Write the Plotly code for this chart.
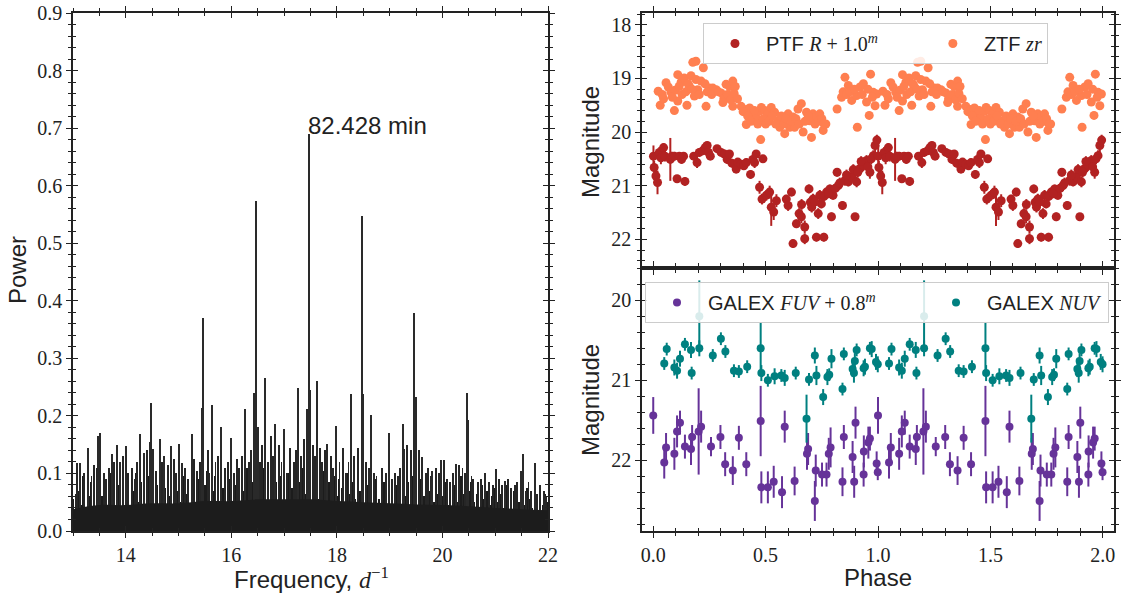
import plotly.graph_objects as go

# ---------------- Periodogram (left panel) ----------------
peak_freq = [13.13, 13.29, 13.48, 13.51, 13.73, 13.84, 13.89, 14.00, 14.27, 14.34,
             14.45, 14.48, 14.52, 14.64, 14.73, 14.85, 15.01, 15.07, 15.26, 15.45,
             15.47, 15.64, 15.80, 15.99, 16.26, 16.43, 16.47, 16.50, 16.63, 16.83,
             16.99, 17.26, 17.44, 17.47, 17.50, 17.63, 17.82, 17.98, 18.27, 18.48,
             18.50, 18.64, 18.99, 19.26, 19.28, 19.46, 19.49, 19.62, 19.81, 19.97,
             20.26, 20.47, 20.49, 20.81, 21.01, 21.18, 21.49, 21.52, 21.75]
peak_power = [0.119, 0.145, 0.165, 0.170, 0.133, 0.150, 0.120, 0.148, 0.168, 0.136,
              0.154, 0.223, 0.142, 0.160, 0.130, 0.148, 0.151, 0.119, 0.168, 0.213,
              0.370, 0.219, 0.180, 0.162, 0.212, 0.239, 0.573, 0.180, 0.265, 0.186,
              0.178, 0.248, 0.212, 0.690, 0.245, 0.260, 0.151, 0.182, 0.238, 0.548,
              0.238, 0.202, 0.171, 0.186, 0.142, 0.378, 0.232, 0.129, 0.104, 0.123,
              0.117, 0.239, 0.193, 0.100, 0.107, 0.087, 0.104, 0.133, 0.119]

minor_peak_freq = [13.05, 13.08, 13.20, 13.35, 13.40, 13.45, 13.58, 13.62, 13.68, 13.78,
                   13.95, 14.05, 14.12, 14.18, 14.22, 14.40, 14.58, 14.68, 14.80, 14.92,
                   14.96, 15.12, 15.18, 15.30, 15.35, 15.40, 15.55, 15.58, 15.70, 15.75,
                   15.88, 15.93, 16.05, 16.10, 16.15, 16.20, 16.33, 16.38, 16.55, 16.58,
                   16.70, 16.75, 16.79, 16.90, 16.95, 17.05, 17.12, 17.18, 17.22, 17.32,
                   17.38, 17.55, 17.58, 17.68, 17.72, 17.77, 17.88, 17.93, 18.05, 18.12,
                   18.17, 18.22, 18.33, 18.40, 18.56, 18.60, 18.70, 18.75, 18.85, 18.93,
                   19.05, 19.10, 19.15, 19.20, 19.33, 19.40, 19.56, 19.68, 19.72, 19.78,
                   19.88, 19.93, 20.03, 20.08, 20.15, 20.20, 20.32, 20.38, 20.42, 20.55,
                   20.58, 20.68, 20.73, 20.88, 20.95, 21.08, 21.12, 21.25, 21.30, 21.38,
                   21.42, 21.58, 21.63, 21.68, 21.80, 21.85, 21.92, 21.96]
minor_peak_power = [0.065, 0.118, 0.100, 0.095, 0.115, 0.110, 0.100, 0.090, 0.110, 0.120,
                    0.130, 0.100, 0.110, 0.090, 0.120, 0.140, 0.105, 0.120, 0.115, 0.125,
                    0.100, 0.110, 0.090, 0.125, 0.105, 0.120, 0.140, 0.100, 0.120, 0.130,
                    0.110, 0.120, 0.100, 0.125, 0.110, 0.130, 0.120, 0.140, 0.120, 0.150,
                    0.120, 0.165, 0.130, 0.150, 0.120, 0.100, 0.145, 0.120, 0.140, 0.130,
                    0.160, 0.150, 0.130, 0.145, 0.120, 0.140, 0.130, 0.110, 0.120, 0.145,
                    0.100, 0.120, 0.130, 0.145, 0.120, 0.110, 0.100, 0.095, 0.110, 0.100,
                    0.090, 0.100, 0.095, 0.110, 0.150, 0.140, 0.140, 0.100, 0.110, 0.095,
                    0.110, 0.100, 0.123, 0.090, 0.085, 0.100, 0.115, 0.110, 0.100, 0.095,
                    0.090, 0.085, 0.090, 0.085, 0.080, 0.090, 0.080, 0.090, 0.075, 0.080,
                    0.085, 0.070, 0.085, 0.070, 0.065, 0.080, 0.070, 0.060]

noise_start = 13.0
noise_step = 0.05
noise_power = [
    0.055, 0.030, 0.070, 0.045, 0.095, 0.040, 0.060, 0.085, 0.050, 0.075,
    0.035, 0.060, 0.070, 0.045, 0.100, 0.065, 0.040, 0.080, 0.055, 0.105,
    0.060, 0.090, 0.045, 0.070, 0.100, 0.050, 0.085, 0.065, 0.040, 0.095,
    0.070, 0.045, 0.080, 0.100, 0.055, 0.075, 0.105, 0.060, 0.045, 0.085,
    0.070, 0.050, 0.095, 0.065, 0.045, 0.110, 0.075, 0.055, 0.090, 0.060,
    0.080, 0.105, 0.050, 0.070, 0.095, 0.060, 0.110, 0.075, 0.045, 0.090,
    0.065, 0.100, 0.080, 0.055, 0.095, 0.070, 0.110, 0.060, 0.085, 0.100,
    0.075, 0.055, 0.110, 0.090, 0.060, 0.105, 0.070, 0.085, 0.050, 0.095,
    0.080, 0.060, 0.100, 0.075, 0.090, 0.050, 0.085, 0.110, 0.065, 0.095,
    0.100, 0.070, 0.090, 0.055, 0.080, 0.105, 0.060, 0.085, 0.070, 0.095,
    0.060, 0.090, 0.075, 0.050, 0.100, 0.065, 0.085, 0.055, 0.080, 0.070,
    0.095, 0.060, 0.080, 0.050, 0.075, 0.090, 0.055, 0.070, 0.085, 0.045,
    0.100, 0.065, 0.055, 0.080, 0.045, 0.070, 0.060, 0.085, 0.050, 0.095,
    0.075, 0.055, 0.090, 0.060, 0.045, 0.070, 0.085, 0.050, 0.065, 0.080,
    0.060, 0.085, 0.045, 0.070, 0.055, 0.080, 0.050, 0.095, 0.065, 0.045,
    0.070, 0.085, 0.050, 0.065, 0.040, 0.080, 0.055, 0.070, 0.045, 0.060,
    0.075, 0.050, 0.065, 0.040, 0.080, 0.055, 0.045, 0.070, 0.060, 0.050,
    0.065, 0.045, 0.075, 0.055, 0.040, 0.070, 0.050, 0.060, 0.045, 0.065,
    0.050]

floor_freq = [13.0, 13.5, 14.0, 14.5, 15.0, 15.5, 16.0, 16.5, 17.0, 17.5,
              18.0, 18.5, 19.0, 19.5, 20.0, 20.5, 21.0, 21.5, 22.0]
floor_power = [0.038, 0.045, 0.045, 0.048, 0.048, 0.052, 0.052, 0.055, 0.055, 0.055,
               0.052, 0.050, 0.048, 0.046, 0.045, 0.043, 0.040, 0.038, 0.036]

peak_label = "82.428 min"
peak_label_freq = 17.47
peak_label_power = 0.704

# ---------------- Optical light curves (phase 0-1, PTF shown with +1.0 mag) ----------------
ptf_phase = [0.001, 0.004, 0.012, 0.019, 0.027, 0.034, 0.046, 0.052, 0.076, 0.083,
             0.094, 0.106, 0.116, 0.126, 0.135, 0.141, 0.180, 0.195, 0.205, 0.220,
             0.231, 0.240, 0.246, 0.254, 0.284, 0.302, 0.317, 0.329, 0.339, 0.350,
             0.369, 0.376, 0.391, 0.403, 0.414, 0.433, 0.443, 0.451, 0.458, 0.473,
             0.484, 0.488, 0.503, 0.518, 0.525, 0.536, 0.548, 0.592, 0.600, 0.615,
             0.622, 0.637, 0.649, 0.659, 0.674, 0.674, 0.693, 0.699, 0.711, 0.726,
             0.734, 0.741, 0.748, 0.759, 0.771, 0.786, 0.793, 0.800, 0.818, 0.823,
             0.842, 0.853, 0.868, 0.883, 0.898, 0.905, 0.920, 0.935, 0.949, 0.964,
             0.979, 0.987, 0.995, 0.660, 0.705, 0.720, 0.760, 0.780, 0.810, 0.830,
             0.860, 0.890, 0.910, 0.925, 0.955, 0.970]
ptf_mag = [20.45, 20.66, 20.82, 20.94, 20.38, 20.48, 20.29, 20.45, 20.51, 20.45,
           20.45, 20.87, 20.45, 20.51, 20.45, 20.92, 20.45, 20.57, 20.38, 20.35,
           20.29, 20.25, 20.38, 20.45, 20.31, 20.38, 20.41, 20.51, 20.41, 20.58,
           20.69, 20.56, 20.60, 20.63, 20.57, 20.79, 20.51, 20.57, 20.41, 21.03,
           21.25, 20.50, 21.18, 21.12, 21.40, 21.49, 21.28, 21.25, 21.37, 21.12,
           22.08, 21.71, 21.52, 21.58, 21.77, 21.99, 21.06, 21.31, 21.25, 21.96,
           21.52, 21.18, 21.34, 21.96, 21.12, 21.06, 21.58, 21.18, 20.75, 21.00,
           21.37, 20.90, 20.93, 20.84, 21.58, 20.93, 20.68, 20.62, 20.53, 20.75,
           20.44, 20.25, 20.15, 21.35, 21.40, 21.30, 21.20, 21.15, 21.05, 20.95,
           20.80, 20.70, 20.75, 20.55, 20.65, 20.50]
ptf_err = [0.20, 0.12, 0.15, 0.22, 0.10, 0.12, 0.08, 0.10, 0.40, 0.08,
           0.08, 0.07, 0.07, 0.08, 0.07, 0.08, 0.07, 0.10, 0.08, 0.07,
           0.08, 0.07, 0.10, 0.07, 0.06, 0.07, 0.07, 0.08, 0.07, 0.08,
           0.08, 0.07, 0.08, 0.07, 0.08, 0.08, 0.10, 0.10, 0.07, 0.12,
           0.10, 0.05, 0.10, 0.12, 0.35, 0.15, 0.12, 0.08, 0.10, 0.08,
           0.08, 0.08, 0.10, 0.12, 0.12, 0.10, 0.08, 0.10, 0.10, 0.08,
           0.10, 0.10, 0.08, 0.08, 0.08, 0.08, 0.08, 0.08, 0.08, 0.10,
           0.08, 0.10, 0.08, 0.10, 0.07, 0.10, 0.12, 0.10, 0.10, 0.12,
           0.10, 0.15, 0.10, 0.10, 0.10, 0.10, 0.08, 0.08, 0.08, 0.10,
           0.10, 0.10, 0.10, 0.10, 0.10, 0.10]

ztf_phase = [0.022, 0.031, 0.046, 0.057, 0.067, 0.079, 0.094, 0.097, 0.109, 0.109,
             0.124, 0.128, 0.138, 0.150, 0.161, 0.168, 0.176, 0.183, 0.190, 0.190,
             0.198, 0.213, 0.223, 0.235, 0.250, 0.265, 0.280, 0.302, 0.314, 0.324,
             0.339, 0.354, 0.354, 0.365, 0.391, 0.414, 0.414, 0.429, 0.443, 0.458,
             0.473, 0.478, 0.481, 0.496, 0.510, 0.525, 0.540, 0.555, 0.563, 0.585,
             0.600, 0.607, 0.622, 0.629, 0.644, 0.659, 0.667, 0.682, 0.696, 0.704,
             0.711, 0.726, 0.741, 0.756, 0.768, 0.818, 0.838, 0.853, 0.868, 0.883,
             0.905, 0.908, 0.920, 0.935, 0.949, 0.961, 0.967, 0.979, 0.987, 0.994,
             0.040, 0.085, 0.115, 0.145, 0.155, 0.172, 0.205, 0.230, 0.240, 0.260,
             0.290, 0.310, 0.330, 0.345, 0.360, 0.375, 0.400, 0.420, 0.435, 0.450,
             0.465, 0.490, 0.500, 0.515, 0.530, 0.545, 0.570, 0.580, 0.590, 0.615,
             0.635, 0.650, 0.675, 0.690, 0.720, 0.735, 0.750, 0.760, 0.845, 0.860,
             0.875, 0.895, 0.930, 0.955, 0.975]
ztf_mag = [19.24, 19.50, 19.38, 19.08, 19.16, 19.26, 19.60, 19.22, 18.93, 19.42,
           19.07, 19.30, 18.99, 19.50, 19.15, 18.95, 18.70, 19.33, 18.68, 19.02,
           19.21, 19.05, 18.80, 19.52, 19.18, 19.18, 19.21, 19.27, 19.38, 19.11,
           19.15, 19.05, 19.52, 19.15, 19.52, 19.58, 19.86, 19.55, 19.67, 19.73,
           19.61, 20.14, 19.54, 19.60, 19.66, 19.54, 19.63, 19.79, 19.91, 20.03,
           19.66, 19.91, 19.72, 19.91, 19.57, 19.47, 20.00, 19.63, 19.79, 20.10,
           19.66, 19.72, 19.66, 19.97, 19.85, 19.57, 19.35, 18.98, 19.13, 19.41,
           19.32, 19.91, 19.16, 19.10, 19.44, 19.69, 18.92, 19.26, 19.51, 19.29,
           19.30, 19.35, 19.15, 19.25, 19.10, 19.20, 19.30, 19.10, 19.25, 19.30,
           19.25, 19.45, 19.30, 19.40, 19.28, 19.38, 19.62, 19.70, 19.80, 19.60,
           19.85, 19.75, 19.85, 19.80, 19.70, 19.85, 19.70, 19.85, 19.75, 19.80,
           19.75, 19.85, 19.80, 19.70, 19.85, 19.80, 19.75, 19.85, 19.25, 19.30,
           19.25, 19.20, 19.30, 19.20, 19.35]
ztf_err = [0.06] * 40 + [0.07] * 45 + [0.06] * 40

# ---------------- GALEX light curves (FUV shown with +0.8 mag) ----------------
fuv_phase = [0.000, 0.049, 0.057, 0.094, 0.106, 0.119, 0.141, 0.168, 0.173, 0.202,
             0.213, 0.257, 0.299, 0.320, 0.354, 0.381, 0.414, 0.478, 0.481, 0.510,
             0.536, 0.573, 0.585, 0.629, 0.684, 0.689, 0.719, 0.723, 0.751, 0.771,
             0.781, 0.789, 0.842, 0.848, 0.887, 0.894, 0.900, 0.936, 0.937, 0.957,
             0.964, 0.994, 0.999]
fuv_mag = [21.44, 22.03, 21.84, 21.92, 21.64, 21.53, 21.83, 21.86, 21.71, 21.64,
           21.58, 21.83, 21.71, 22.05, 22.13, 21.72, 22.05, 21.51, 22.34, 22.34,
           22.27, 22.40, 21.58, 22.26, 21.92, 21.86, 22.51, 22.13, 22.18, 22.18,
           21.92, 21.84, 22.27, 21.71, 21.96, 22.27, 21.53, 22.18, 21.89, 21.78,
           21.73, 22.04, 22.15]
fuv_err = [0.23, 0.20, 0.18, 0.20, 0.20, 0.15, 0.15, 0.20, 0.15, 0.54,
           0.20, 0.12, 0.15, 0.15, 0.18, 0.15, 0.15, 0.44, 0.20, 0.20,
           0.20, 0.20, 0.20, 0.18, 0.20, 0.20, 0.25, 0.20, 0.15, 0.15,
           0.20, 0.25, 0.18, 0.15, 0.20, 0.20, 0.20, 0.15, 0.20, 0.20,
           0.15, 0.15, 0.10]

nuv_phase = [0.049, 0.060, 0.094, 0.106, 0.119, 0.141, 0.168, 0.171, 0.205, 0.205,
             0.265, 0.301, 0.321, 0.359, 0.381, 0.418, 0.478, 0.481, 0.510, 0.540,
             0.570, 0.585, 0.634, 0.682, 0.693, 0.719, 0.726, 0.756, 0.775, 0.783,
             0.793, 0.842, 0.848, 0.887, 0.893, 0.897, 0.905, 0.936, 0.942, 0.964,
             0.972, 0.991, 0.999]
nuv_mag = [20.79, 20.61, 20.84, 20.88, 20.73, 20.55, 20.62, 20.91, 20.20, 20.60,
           20.69, 20.48, 20.64, 20.88, 20.89, 20.83, 20.60, 20.91, 21.00, 20.95,
           20.94, 20.97, 20.91, 21.48, 20.99, 20.69, 20.94, 21.21, 20.96, 20.93,
           20.73, 21.11, 20.67, 20.86, 20.91, 20.76, 20.62, 20.85, 20.83, 20.60,
           20.61, 20.77, 20.80]
nuv_err = [0.08, 0.08, 0.10, 0.10, 0.10, 0.08, 0.10, 0.08, 0.45, 0.10,
           0.08, 0.08, 0.08, 0.08, 0.08, 0.08, 0.33, 0.10, 0.08, 0.10,
           0.08, 0.10, 0.08, 0.30, 0.08, 0.10, 0.12, 0.10, 0.10, 0.08,
           0.12, 0.08, 0.08, 0.10, 0.12, 0.10, 0.08, 0.10, 0.10, 0.08,
           0.10, 0.10, 0.10]

PTF_C = "#b22222"
ZTF_C = "#ff7f50"
FUV_C = "#663399"
NUV_C = "#008080"
INK = "#222222"
NB = "\u00a0"


def two_cycles(values, shift):
    """Phase-folded data is shown twice (phase 0-1 and 1-2)."""
    return list(values) + [v + shift for v in values]


fig = go.Figure()

# periodogram
noise_freq = [round(noise_start + noise_step * i, 3) for i in range(len(noise_power))]
fig.add_trace(go.Bar(x=noise_freq, y=noise_power, width=0.026,
                     marker=dict(color="#1c1c1c", line=dict(width=0)),
                     showlegend=False, hoverinfo="skip", xaxis="x", yaxis="y"))
fig.add_trace(go.Bar(x=minor_peak_freq, y=minor_peak_power, width=0.018,
                     marker=dict(color="#262626", line=dict(width=0)),
                     showlegend=False, hoverinfo="skip", xaxis="x", yaxis="y"))
fig.add_trace(go.Bar(x=peak_freq, y=peak_power, width=0.02,
                     marker=dict(color="#2a2a2a", line=dict(width=0)),
                     showlegend=False, xaxis="x", yaxis="y"))
fig.add_trace(go.Scatter(x=floor_freq, y=floor_power, mode="lines", fill="tozeroy",
                         line=dict(width=0, color="#1c1c1c", shape="spline"),
                         fillcolor="#1c1c1c", showlegend=False, hoverinfo="skip",
                         xaxis="x", yaxis="y"))


def lc_trace(phase, mag, err, color, name, xa, ya, leg, size):
    return go.Scatter(
        x=two_cycles(phase, 1.0), y=two_cycles(mag, 0.0),
        error_y=dict(type="data", array=list(err) * 2, thickness=2, width=0, color=color),
        mode="markers", marker=dict(size=size, color=color, line=dict(width=0)),
        name=name, xaxis=xa, yaxis=ya, legend=leg)


MATH = '<span style="font-family:Liberation Serif">'
fig.add_trace(lc_trace(ptf_phase, ptf_mag, ptf_err, PTF_C,
                       'PTF ' + MATH + '<i>R</i> + 1.0<sup><i>m</i></sup></span>' + NB * 7,
                       "x2", "y2", "legend", 9))
fig.add_trace(lc_trace(ztf_phase, ztf_mag, ztf_err, ZTF_C,
                       'ZTF ' + MATH + '<i>zr</i></span>',
                       "x2", "y2", "legend", 9))
fig.add_trace(lc_trace(fuv_phase, fuv_mag, fuv_err, FUV_C,
                       'GALEX ' + MATH + '<i>FUV</i> + 0.8<sup><i>m</i></sup></span>' + NB * 8,
                       "x3", "y3", "legend2", 8))
fig.add_trace(lc_trace(nuv_phase, nuv_mag, nuv_err, NUV_C,
                       'GALEX ' + MATH + '<i>NUV</i></span>',
                       "x3", "y3", "legend2", 8))

# invisible carriers for the "inside" tick overlay axes
for xa, ya, xs, ys in [("x4", "y4", peak_freq, peak_power),
                       ("x5", "y5", ztf_phase, ztf_mag),
                       ("x6", "y6", nuv_phase, nuv_mag)]:
    fig.add_trace(go.Scatter(x=xs[:1], y=ys[:1], mode="markers", marker=dict(opacity=0),
                             showlegend=False, hoverinfo="skip", xaxis=xa, yaxis=ya))

# ---------------- Layout ----------------
W, H = 1122, 597
XL = [73 / W, 548 / W]
XR = [642 / W, 1114 / W]
YL = [1 - 531 / H, 1 - 13 / H]
YT = [1 - 268 / H, 1 - 13 / H]
YB = [1 - 531 / H, 1 - 268 / H]

TICKFONT = dict(family="Liberation Serif", size=20, color=INK)


def ax(domain, rng, dtick, mdtick, anchor, labels=True, fmt=None, inside=False, overlaying=None):
    side = "inside" if inside else "outside"
    d = dict(domain=domain, range=rng, anchor=anchor, autorange=False, automargin=False,
             showline=True, linecolor=INK, linewidth=1.6, mirror="allticks",
             ticks=side, ticklen=5, tickwidth=1.4, tickcolor=INK,
             tick0=0, dtick=dtick,
             minor=dict(tick0=0, dtick=mdtick, ticks=side, ticklen=3, tickwidth=1.1, tickcolor=INK),
             showgrid=False, zeroline=False, showticklabels=labels and not inside,
             tickfont=TICKFONT, fixedrange=True)
    if fmt:
        d["tickformat"] = fmt
    if overlaying:
        d["overlaying"] = overlaying
        d.pop("domain")
    return d


LEGFONT = dict(family="Liberation Sans", size=20, color=INK)

fig.update_layout(
    width=W, height=H, margin=dict(l=0, r=0, t=0, b=0, autoexpand=False),
    paper_bgcolor="white", plot_bgcolor="white",
    barmode="overlay", bargap=0,
    xaxis=ax(XL, [13, 22], 2, 0.5, "y"),
    yaxis=ax(YL, [0, 0.9], 0.1, 0.02, "x", fmt=".1f"),
    xaxis2=ax(XR, [-0.05, 2.05], 0.5, 0.1, "y2", labels=False),
    yaxis2=ax(YT, [22.535, 17.78], 1, 0.2, "x2"),
    xaxis3=ax(XR, [-0.05, 2.05], 0.5, 0.1, "y3", fmt=".1f"),
    yaxis3=ax(YB, [22.886, 19.595], 1, 0.2, "x3"),
    xaxis4=ax(XL, [13, 22], 2, 0.5, "y4", inside=True, overlaying="x"),
    yaxis4=ax(YL, [0, 0.9], 0.1, 0.02, "x4", inside=True, overlaying="y"),
    xaxis5=ax(XR, [-0.05, 2.05], 0.5, 0.1, "y5", inside=True, overlaying="x2"),
    yaxis5=ax(YT, [22.535, 17.78], 1, 0.2, "x5", inside=True, overlaying="y2"),
    xaxis6=ax(XR, [-0.05, 2.05], 0.5, 0.1, "y6", inside=True, overlaying="x3"),
    yaxis6=ax(YB, [22.886, 19.595], 1, 0.2, "x6", inside=True, overlaying="y3"),
    legend=dict(x=703 / W, y=1 - 23 / H, xanchor="left", yanchor="top",
                orientation="h", bgcolor="rgba(255,255,255,0.85)",
                bordercolor="#cccccc", borderwidth=1, font=LEGFONT,
                itemwidth=52, tracegroupgap=0),
    legend2=dict(x=645 / W, y=1 - 282 / H, xanchor="left", yanchor="top",
                 orientation="h", bgcolor="rgba(255,255,255,0.85)",
                 bordercolor="#cccccc", borderwidth=1, font=LEGFONT,
                 itemwidth=52, tracegroupgap=0),
    showlegend=True,
)

TITLEFONT = dict(family="Liberation Sans", size=24, color=INK)
titles = [
    ("Power", 17, 270, -90),
    ('Frequency, ' + MATH + '<i>d</i><sup>−1</sup></span>', 311, 578, 0),
    ("Magnitude", 590, 142, -90),
    ("Magnitude", 590, 400, -90),
    ("Phase", 878, 577, 0),
]
for text, px, py, ang in titles:
    fig.add_annotation(text=text, x=px / W, y=1 - py / H, xref="paper", yref="paper",
                       xanchor="center", yanchor="middle", textangle=ang,
                       showarrow=False, font=TITLEFONT)

fig.add_annotation(text=peak_label, x=peak_label_freq, y=peak_label_power, xref="x", yref="y",
                   xanchor="left", yanchor="middle", showarrow=False, xshift=-3,
                   font=dict(family="Liberation Sans", size=24, color=INK))

fig.write_html("out.html")
